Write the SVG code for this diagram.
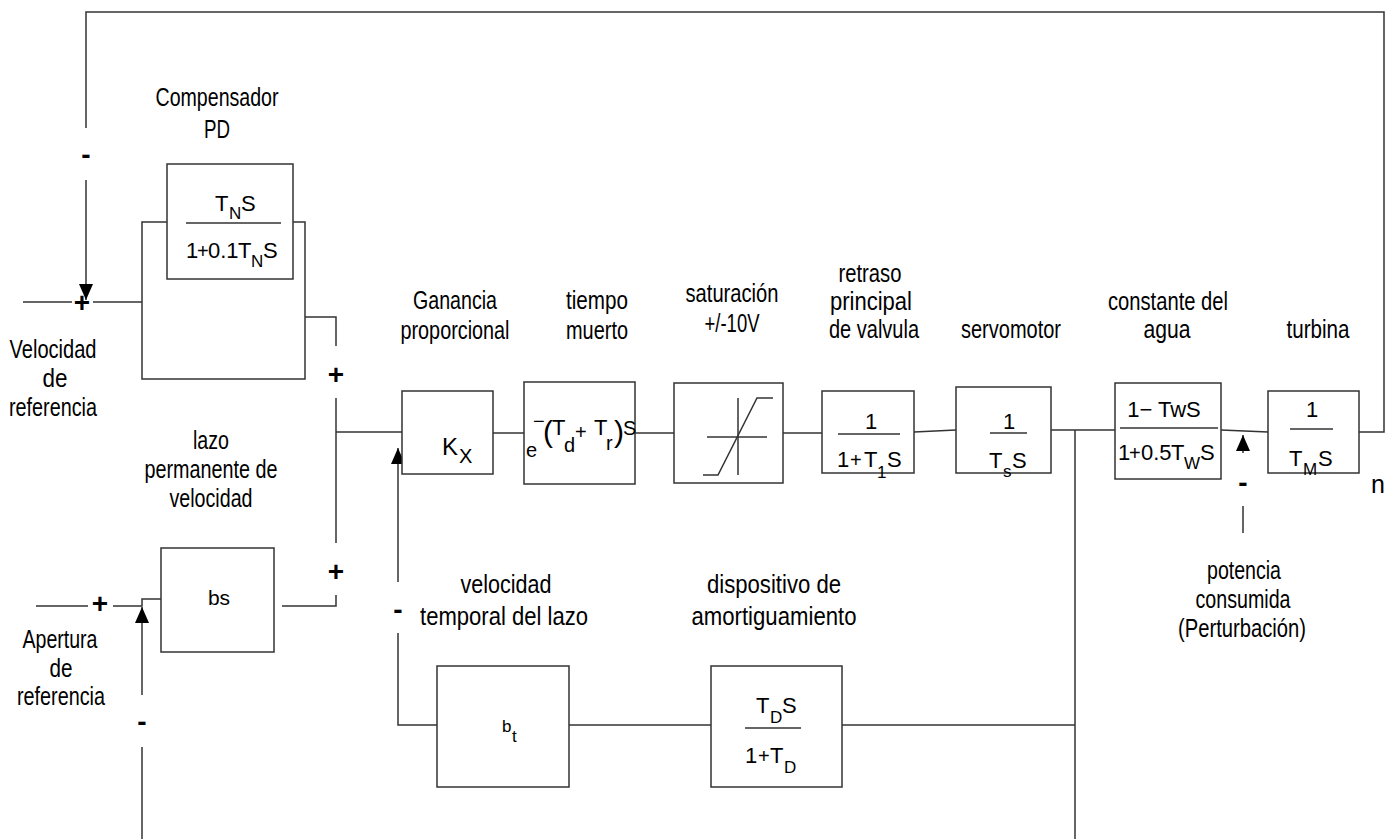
<svg xmlns="http://www.w3.org/2000/svg" width="1396" height="839" viewBox="0 0 1396 839">
<style>
  .box{fill:#fff;stroke:#333;stroke-width:1.5}
  .ln{fill:none;stroke:#333;stroke-width:1.5}
  .lbl{font-family:"Liberation Sans",Arial,sans-serif;font-size:25px;text-anchor:middle;fill:#000}
  .f{font-family:"Liberation Sans",Arial,sans-serif;font-size:22px;fill:#000}
  .fm{font-family:"Liberation Sans",Arial,sans-serif;font-size:22px;fill:#000;text-anchor:middle}
  .sub{font-size:17px}
  .op{font-size:20px}
  .sign{font-family:"Liberation Sans",Arial,sans-serif;font-size:28px;font-weight:bold;text-anchor:middle;fill:#000}
</style>
<defs>
  <marker id="ah" viewBox="0 0 16 14" refX="16" refY="7" markerWidth="16" markerHeight="14" markerUnits="userSpaceOnUse" orient="auto">
    <path d="M0,0 L16,7 L0,14 Z" fill="#000"/>
  </marker>
</defs>
<rect width="1396" height="839" fill="#fff"/>

<g id="connectors">
  <polyline class="ln" points="1359,432 1384,432 1384,12 86,12 86,128"/>
  <line class="ln" x1="86" y1="180" x2="86" y2="300" marker-end="url(#ah)"/>
  <line class="ln" x1="23" y1="302" x2="72" y2="302"/>
  <line class="ln" x1="93" y1="302" x2="142" y2="302"/>
  <polyline class="ln" points="305,317 336,317 336,346"/>
  <line class="ln" x1="336" y1="398" x2="336" y2="543"/>
  <polyline class="ln" points="282,606 336,606 336,595"/>
  <line class="ln" x1="336" y1="432" x2="402" y2="432"/>
  <line class="ln" x1="493" y1="433" x2="524" y2="433"/>
  <line class="ln" x1="635" y1="433" x2="674" y2="433"/>
  <line class="ln" x1="783" y1="433" x2="822" y2="433"/>
  <line class="ln" x1="914" y1="432" x2="956" y2="430"/>
  <line class="ln" x1="1051" y1="430" x2="1115" y2="430"/>
  <line class="ln" x1="1221" y1="430" x2="1268" y2="432"/>
  <line class="ln" x1="1075" y1="430" x2="1075" y2="839"/>
  <line class="ln" x1="1075" y1="725" x2="842" y2="725"/>
  <line class="ln" x1="711" y1="725" x2="569" y2="725"/>
  <polyline class="ln" points="437,725 398,725 398,633"/>
  <line class="ln" x1="398" y1="582" x2="398" y2="448" marker-end="url(#ah)"/>
  <line class="ln" x1="36" y1="606" x2="88" y2="606"/>
  <polyline class="ln" points="113,606 142,606 142,599 161,599"/>
  <line class="ln" x1="142" y1="839" x2="142" y2="747"/>
  <line class="ln" x1="142" y1="695" x2="142" y2="607" marker-end="url(#ah)"/>
  <line class="ln" x1="1243" y1="453" x2="1243" y2="435" marker-end="url(#ah)"/>
  <line class="ln" x1="1243" y1="506" x2="1243" y2="533"/>
</g>

<g id="signs">
  <text class="sign" x="86" y="164">-</text>
  <text class="sign" x="82" y="311.5">+</text>
  <text class="sign" x="336" y="383.5">+</text>
  <text class="sign" x="336" y="580.5">+</text>
  <text class="sign" x="100" y="612.5">+</text>
  <text class="sign" x="398" y="619">-</text>
  <text class="sign" x="142" y="731">-</text>
  <text class="sign" x="1243" y="492">-</text>
</g>

<g id="velocidad-referencia">
  <text class="lbl" x="53" y="358" textLength="87" lengthAdjust="spacingAndGlyphs">Velocidad</text>
  <text class="lbl" x="55" y="387" textLength="25" lengthAdjust="spacingAndGlyphs">de</text>
  <text class="lbl" x="53" y="416" textLength="88" lengthAdjust="spacingAndGlyphs">referencia</text>
</g>

<g id="compensador-pd">
  <rect class="box" x="142" y="222" width="163" height="157"/>
  <rect class="box" x="167" y="164" width="126" height="115"/>
  <line class="ln" x1="186" y1="223" x2="281" y2="223"/>
  <text class="f"><tspan x="215" y="211">T</tspan><tspan class="sub" x="229" y="219">N</tspan><tspan x="241" y="211">S</tspan></text>
  <text class="f"><tspan x="186" y="258">1</tspan><tspan class="op" x="197" y="258">+</tspan><tspan x="208" y="258">0.1</tspan><tspan x="238" y="258">T</tspan><tspan class="sub" x="251" y="267">N</tspan><tspan x="263" y="258">S</tspan></text>
  <text class="lbl" x="217" y="106" textLength="123" lengthAdjust="spacingAndGlyphs">Compensador</text>
  <text class="lbl" x="217" y="138" textLength="26" lengthAdjust="spacingAndGlyphs">PD</text>
</g>

<g id="lazo-permanente">
  <rect class="box" x="161" y="548" width="113" height="104"/>
  <text class="lbl" x="219" y="605" style="font-size:21px">bs</text>
  <text class="lbl" x="211" y="449" textLength="36" lengthAdjust="spacingAndGlyphs">lazo</text>
  <text class="lbl" x="211" y="478" textLength="133" lengthAdjust="spacingAndGlyphs">permanente de</text>
  <text class="lbl" x="211" y="507" textLength="83" lengthAdjust="spacingAndGlyphs">velocidad</text>
</g>

<g id="apertura-referencia">
  <text class="lbl" x="60" y="648" textLength="75" lengthAdjust="spacingAndGlyphs">Apertura</text>
  <text class="lbl" x="61" y="677" textLength="23" lengthAdjust="spacingAndGlyphs">de</text>
  <text class="lbl" x="61" y="705" textLength="88" lengthAdjust="spacingAndGlyphs">referencia</text>
</g>

<g id="ganancia">
  <rect class="box" x="402" y="391" width="91" height="83"/>
  <text class="f" style="font-size:24px"><tspan x="442" y="455">K</tspan><tspan style="font-size:20px" x="459" y="463">X</tspan></text>
  <text class="lbl" x="455" y="309" textLength="84" lengthAdjust="spacingAndGlyphs">Ganancia</text>
  <text class="lbl" x="455" y="339" textLength="109" lengthAdjust="spacingAndGlyphs">proporcional</text>
</g>

<g id="tiempo-muerto">
  <rect class="box" x="524" y="382" width="111" height="102"/>
  <text class="f"><tspan class="op" x="526" y="457">e</tspan><tspan style="font-size:20px" x="533" y="428">−</tspan><tspan style="font-size:30px" x="543" y="442">(</tspan><tspan x="552" y="435">T</tspan><tspan class="op" x="564" y="452">d</tspan><tspan style="font-size:20px" x="575" y="439">+</tspan><tspan x="594" y="435">T</tspan><tspan class="op" x="606" y="450">r</tspan><tspan style="font-size:30px" x="614" y="442">)</tspan><tspan class="op" x="623" y="435">S</tspan></text>
  <text class="lbl" x="597" y="309" textLength="62" lengthAdjust="spacingAndGlyphs">tiempo</text>
  <text class="lbl" x="597" y="339" textLength="62" lengthAdjust="spacingAndGlyphs">muerto</text>
</g>

<g id="saturacion">
  <rect class="box" x="674" y="383" width="109" height="100"/>
  <line class="ln" x1="707" y1="437" x2="767" y2="437"/>
  <line class="ln" x1="738" y1="398" x2="738" y2="475"/>
  <polyline class="ln" points="703,475 718,475 757,398 773,398"/>
  <text class="lbl" x="732" y="302" textLength="93" lengthAdjust="spacingAndGlyphs">saturación</text>
  <text class="lbl" x="732" y="332" textLength="55" lengthAdjust="spacingAndGlyphs">+/-10V</text>
</g>

<g id="retraso-valvula">
  <rect class="box" x="822" y="391" width="92" height="82"/>
  <line class="ln" x1="838" y1="434" x2="900" y2="434"/>
  <text class="fm" x="871" y="429">1</text>
  <text class="f"><tspan x="837" y="467">1</tspan><tspan class="op" x="850" y="467">+</tspan><tspan x="864" y="467">T</tspan><tspan class="sub" x="877" y="478">1</tspan><tspan x="887" y="467">S</tspan></text>
  <text class="lbl" x="870" y="282" textLength="63" lengthAdjust="spacingAndGlyphs">retraso</text>
  <text class="lbl" x="871" y="310" textLength="82" lengthAdjust="spacingAndGlyphs">principal</text>
  <text class="lbl" x="874" y="338" textLength="90" lengthAdjust="spacingAndGlyphs">de valvula</text>
</g>

<g id="servomotor">
  <rect class="box" x="956" y="387" width="95" height="86"/>
  <line class="ln" x1="990" y1="433" x2="1027" y2="433"/>
  <text class="fm" x="1009" y="429">1</text>
  <text class="f"><tspan x="989" y="468">T</tspan><tspan class="sub" x="1003" y="477">s</tspan><tspan x="1012" y="468">S</tspan></text>
  <text class="lbl" x="1011" y="338" textLength="100" lengthAdjust="spacingAndGlyphs">servomotor</text>
</g>

<g id="constante-agua">
  <rect class="box" x="1115" y="383" width="106" height="96"/>
  <line class="ln" x1="1120" y1="428" x2="1218" y2="428"/>
  <text class="fm" x="1164" y="417">1− TwS</text>
  <text class="f"><tspan x="1118" y="460">1</tspan><tspan class="op" x="1129" y="460">+</tspan><tspan x="1141" y="460">0.5</tspan><tspan x="1171" y="460">T</tspan><tspan class="sub" x="1184" y="469">W</tspan><tspan x="1200" y="460">S</tspan></text>
  <text class="lbl" x="1168" y="310" textLength="120" lengthAdjust="spacingAndGlyphs">constante del</text>
  <text class="lbl" x="1167" y="338" textLength="47" lengthAdjust="spacingAndGlyphs">agua</text>
</g>

<g id="turbina">
  <rect class="box" x="1268" y="391" width="91" height="82"/>
  <line class="ln" x1="1290" y1="429" x2="1333" y2="429"/>
  <text class="fm" x="1312" y="417">1</text>
  <text class="f"><tspan x="1289" y="466">T</tspan><tspan class="sub" x="1303" y="475">M</tspan><tspan x="1318" y="466">S</tspan></text>
  <text class="lbl" x="1318" y="338" textLength="63" lengthAdjust="spacingAndGlyphs">turbina</text>
</g>

<g id="salida-n">
  <text class="lbl" x="1378" y="493">n</text>
</g>

<g id="perturbacion">
  <text class="lbl" x="1244" y="579" textLength="74" lengthAdjust="spacingAndGlyphs">potencia</text>
  <text class="lbl" x="1243" y="608" textLength="95" lengthAdjust="spacingAndGlyphs">consumida</text>
  <text class="lbl" x="1242" y="637" textLength="128" lengthAdjust="spacingAndGlyphs">(Perturbación)</text>
</g>

<g id="velocidad-temporal">
  <rect class="box" x="437" y="666" width="132" height="121"/>
  <text class="f" style="font-size:17px"><tspan x="502" y="732">b</tspan><tspan x="512" y="742">t</tspan></text>
  <text class="lbl" x="506" y="593" textLength="91" lengthAdjust="spacingAndGlyphs">velocidad</text>
  <text class="lbl" x="504" y="625" textLength="168" lengthAdjust="spacingAndGlyphs">temporal del lazo</text>
</g>

<g id="amortiguamiento">
  <rect class="box" x="711" y="666" width="131" height="121"/>
  <line class="ln" x1="745" y1="728" x2="801" y2="728"/>
  <text class="f"><tspan x="756" y="713">T</tspan><tspan class="sub" x="770" y="723">D</tspan><tspan x="782" y="713">S</tspan></text>
  <text class="f"><tspan x="745" y="763">1</tspan><tspan class="op" x="758" y="763">+</tspan><tspan x="770" y="763">T</tspan><tspan class="sub" x="784" y="773">D</tspan></text>
  <text class="lbl" x="774" y="593" textLength="134" lengthAdjust="spacingAndGlyphs">dispositivo de</text>
  <text class="lbl" x="774" y="625" textLength="165" lengthAdjust="spacingAndGlyphs">amortiguamiento</text>
</g>
</svg>
